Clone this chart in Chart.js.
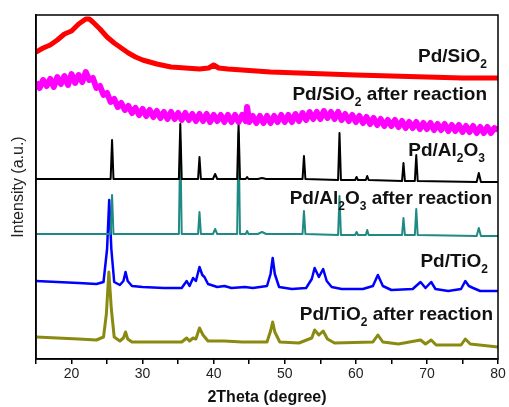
<!DOCTYPE html>
<html>
<head>
<meta charset="utf-8">
<script src="https://cdn.jsdelivr.net/npm/chart.js@4.4.1/dist/chart.umd.min.js"></script>
<style>
  html, body { margin: 0; padding: 0; background: #fff; }
  #wrap { width: 509px; height: 407px; }
</style>
</head>
<body>
<div id="wrap"><canvas id="xrd" width="509" height="407"></canvas></div>
<script>
// 2Theta (degree) vs intensity, patterns stacked with an offset (a.u.)
var xTicks = [20, 30, 40, 50, 60, 70, 80];

var sioFresh = [[15,307],[16,311],[17,314],[18,319],[19,325],[20,328],[21,335],[22,340],[22.5,340],[23,337],[24,330],[25,322],[26,316],[27,311],[28,306],[29,302],[30,299],[32,295],[34,292],[36,291],[38,290],[39.3,291],[40,294],[40.7,291],[42,290],[44,289],[48,287],[52,286],[56,285],[60,284],[65,283],[70,282],[75,281],[80,281]];

// noisy pattern, read point by point (the band is ragged)
var sioUsed = [[15,277],[15.5,271],[16,279],[16.5,273],[17,280],[17.5,272],[18,282],[18.5,275],[19,283],[19.5,274],[20,285],[20.5,276],[21,284],[21.5,277],[22,287],[22.5,279],[23,281],[23.5,271],[24,273],[24.5,264],[25,266],[25.5,257],[26,260],[26.5,252],[27,256],[27.5,249],[28,253],[28.5,246],[29,251],[29.5,244],[30,250],[30.5,243],[31,249],[31.5,242],[32,248],[32.5,241],[33,247],[33.5,240],[34,247],[34.5,240],[35,246],[35.5,239],[36,246],[36.5,239],[37,245],[37.5,238],[38,245],[38.5,238],[39,245],[39.5,237],[40,244],[40.5,238],[41,244],[41.5,237],[42,244],[42.5,237],[43,244],[43.5,237],[44,244],[44.5,238],[44.7,252],[45,237],[45.5,243],[46,236],[46.5,243],[47,236],[47.5,243],[48,236],[48.5,243],[49,237],[49.5,244],[50,237],[50.5,244],[51,237],[51.5,245],[52,238],[52.5,246],[53,239],[53.5,247],[54,240],[54.5,247],[55,240],[55.5,248],[56,241],[56.5,247],[57,240],[57.5,247],[58,239],[58.5,245],[59,238],[59.5,244],[60,237],[60.5,243],[61,236],[61.5,242],[62,235],[62.5,241],[63,234],[63.5,240],[64,233],[64.5,239],[65,233],[65.5,239],[66,232],[66.5,238],[67,231],[67.5,237],[68,231],[68.5,237],[69,230],[69.5,236],[70,230],[70.5,236],[71,229],[71.5,235],[72,229],[72.5,235],[73,228],[73.5,234],[74,228],[74.5,234],[75,227],[75.5,233],[76,227],[76.5,233],[77,226],[77.5,232],[78,226],[78.5,232],[79,226],[79.5,231],[80,229]];

var alFresh = [[15,180],[25.5,180],[25.7,219],[25.9,180],[35.1,180],[35.3,235],[35.5,180],[37.8,180],[38.0,202],[38.2,180],[39.9,180],[40.2,185],[40.5,180],[43.3,180],[43.5,235],[43.7,180],[44.5,180],[44.7,182],[44.9,180],[46.2,180],[46.8,181],[47.4,180],[52.5,180],[52.7,203],[52.9,180],[57.5,179],[57.7,226],[57.9,179],[59.9,179],[60.1,182],[60.3,179],[61.4,179],[61.6,183],[61.8,179],[66.5,178],[66.7,196],[66.9,178],[68.3,178],[68.5,204],[68.7,178],[77.0,177],[77.3,186],[77.6,177],[80,177]];

var alUsed = [[15,125],[25.5,125],[25.7,164],[25.9,125],[35.1,125],[35.3,219],[35.5,125],[37.8,125],[38.0,147],[38.2,125],[39.9,125],[40.2,130],[40.5,125],[43.3,125],[43.5,227],[43.7,125],[44.5,125],[44.7,128],[44.9,125],[46.2,125],[46.8,127],[47.4,125],[52.5,125],[52.7,148],[52.9,125],[57.5,124],[57.7,163],[57.9,124],[59.9,124],[60.1,127],[60.3,124],[61.4,124],[61.6,129],[61.8,124],[66.5,124],[66.7,141],[66.9,124],[68.3,124],[68.5,150],[68.7,124],[77.0,123],[77.3,131],[77.6,123],[80,123]];

var tiFresh = [[15,78],[18,77],[21,76],[23.5,75],[24.5,77],[25.0,110],[25.3,159],[25.6,110],[26.0,77],[26.8,74],[27.3,78],[27.6,87],[27.9,78],[28.5,73],[30,72],[33,71],[35.5,71],[36.2,78],[36.6,73],[37.1,81],[37.5,78],[38.0,92],[38.4,84],[38.7,82],[39.2,75],[40.5,72],[41.5,73],[42.5,71],[44.4,72],[45.5,71],[47.5,73],[48.0,85],[48.3,101],[48.6,85],[49.2,72],[51,70],[53,71],[53.8,80],[54.2,91],[54.8,82],[55.4,90],[55.9,78],[56.6,72],[58,70],[61,70],[62.4,73],[63.1,84],[63.8,73],[65,69],[68,70],[69.1,77],[69.8,71],[70.6,77],[71.2,70],[73,68],[74.8,70],[75.4,78],[75.9,73],[76.5,71],[77.5,68],[80,68]];

var tiUsed = [[15,22],[18,21],[21,20],[23.5,19],[24.5,22],[24.9,45],[25.25,87],[25.6,50],[26.0,22],[26.8,18],[27.3,21],[27.6,27],[27.9,20],[28.5,17],[31,17],[35.5,17],[36.2,21],[36.6,18],[37.1,21],[37.5,20],[38.0,31],[38.5,24],[39.2,18],[41.5,18],[44,17],[47.5,17],[48.0,28],[48.3,37],[48.6,27],[49.3,17],[52,16],[53.8,21],[54.2,29],[54.8,24],[55.4,28],[56,20],[57,16],[62.4,17],[63.1,24],[63.8,17],[66,15],[69.1,19],[69.8,15],[70.6,19],[71.3,14],[74.8,14],[75.4,20],[76.1,15],[80,12]];

// label runs: [text, isSubscript]
var sampleLabels = [
  [['Pd/SiO',0],['2',1]],
  [['Pd/SiO',0],['2',1],[' after reaction',0]],
  [['Pd/Al',0],['2',1],['O',0],['3',1]],
  [['Pd/Al',0],['2',1],['O',0],['3',1],[' after reaction',0]],
  [['Pd/TiO',0],['2',1]],
  [['Pd/TiO',0],['2',1],[' after reaction',0]]
];
var labelRight = [487, 487, 485, 492, 488, 493];
var labelBase = [62, 100, 156, 204, 267, 320];

function pts(a) {
  return a.map(function (p) { return { x: p[0], y: p[1] }; });
}

var labelPlugin = {
  id: 'labels',
  afterDatasetsDraw: function (chart) {
    var ctx = chart.ctx;
    var big = 'bold 19px "Liberation Sans", Arial, sans-serif';
    var small = 'bold 12px "Liberation Sans", Arial, sans-serif';
    ctx.save();
    ctx.fillStyle = '#111';
    ctx.textBaseline = 'alphabetic';
    ctx.textAlign = 'left';
    sampleLabels.forEach(function (runs, i) {
      var w = 0;
      runs.forEach(function (r) {
        ctx.font = r[1] ? small : big;
        w += ctx.measureText(r[0]).width;
      });
      var x = labelRight[i] - w;
      runs.forEach(function (r) {
        ctx.font = r[1] ? small : big;
        ctx.fillText(r[0], x, labelBase[i] + (r[1] ? 6 : 0));
        x += ctx.measureText(r[0]).width;
      });
    });
    // frame
    var a = chart.chartArea;
    ctx.strokeStyle = '#000';
    ctx.lineWidth = 1.5;
    ctx.strokeRect(a.left, a.top, a.right - a.left, a.bottom - a.top);
    ctx.restore();
  }
};

var ctx = document.getElementById('xrd').getContext('2d');
var chart = new Chart(ctx, {
  type: 'line',
  data: {
    datasets: [
      { data: pts(sioFresh), borderColor: '#ff0000', borderWidth: 5 },
      { data: pts(sioUsed), borderColor: '#ff00ff', borderWidth: 6 },
      { data: pts(alFresh), borderColor: '#000000', borderWidth: 2 },
      { data: pts(alUsed), borderColor: '#1f8a84', borderWidth: 2 },
      { data: pts(tiFresh), borderColor: '#0000ff', borderWidth: 2.5 },
      { data: pts(tiUsed), borderColor: '#8a8a10', borderWidth: 3 }
    ]
  },
  options: {
    responsive: false,
    animation: false,
    events: [],
    layout: { padding: { top: 15, right: 11, left: 0, bottom: 0 } },
    elements: {
      point: { radius: 0 },
      line: { tension: 0, borderJoinStyle: 'round' }
    },
    plugins: { legend: { display: false }, tooltip: { enabled: false } },
    scales: {
      x: {
        type: 'linear',
        min: 15,
        max: 80,
        afterFit: function (s) { s.height = 48; },
        afterBuildTicks: function (s) {
          var t = [];
          for (var v = 15; v <= 80; v += 5) t.push({ value: v });
          s.ticks = t;
        },
        ticks: {
          autoSkip: false,
          maxRotation: 0,
          color: '#222',
          font: { size: 14, family: '"Liberation Sans", Arial, sans-serif' },
          padding: 2,
          callback: function (v) { return xTicks.indexOf(v) >= 0 ? String(v) : ''; }
        },
        grid: { drawOnChartArea: false, tickLength: 5, color: '#000', lineWidth: 1.5 },
        border: { color: '#000', width: 1.5 },
        title: {
          display: true,
          text: '2Theta (degree)',
          color: '#111',
          font: { size: 16, weight: 'bold', family: '"Liberation Sans", Arial, sans-serif' },
          padding: { top: 1, bottom: 0 }
        }
      },
      y: {
        min: 0,
        max: 344,
        afterFit: function (s) { s.width = 36; },
        ticks: { display: false },
        grid: { display: false },
        border: { color: '#000', width: 1.5 },
        title: {
          display: true,
          text: 'Intensity (a.u.)',
          color: '#222',
          font: { size: 16, family: '"Liberation Sans", Arial, sans-serif' },
          padding: { top: 9, bottom: 0 }
        }
      }
    }
  },
  plugins: [labelPlugin]
});
</script>
</body>
</html>
